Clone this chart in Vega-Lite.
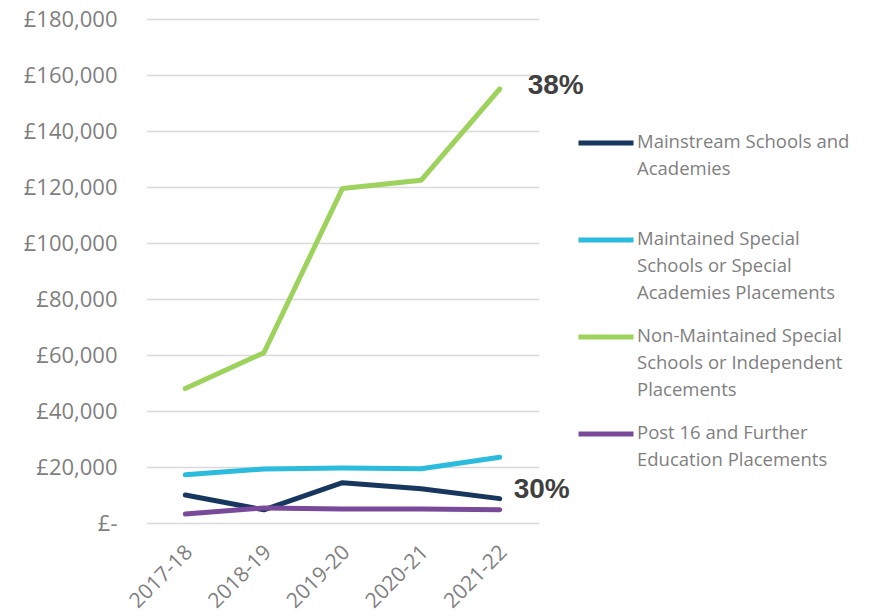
{
  "$schema": "https://vega.github.io/schema/vega-lite/v6.json",
  "autosize": "none",
  "width": 393,
  "height": 504,
  "padding": {"left": 146, "top": 19, "right": 338, "bottom": 93},
  "background": "white",
  "datasets": {
    "costs": [
      {"year": "2017-18", "series": "Mainstream Schools and Academies", "value": 10000},
      {"year": "2018-19", "series": "Mainstream Schools and Academies", "value": 4700},
      {"year": "2019-20", "series": "Mainstream Schools and Academies", "value": 14400},
      {"year": "2020-21", "series": "Mainstream Schools and Academies", "value": 12200},
      {"year": "2021-22", "series": "Mainstream Schools and Academies", "value": 8700},
      {"year": "2017-18", "series": "Maintained Special Schools or Special Academies Placements", "value": 17200},
      {"year": "2018-19", "series": "Maintained Special Schools or Special Academies Placements", "value": 19300},
      {"year": "2019-20", "series": "Maintained Special Schools or Special Academies Placements", "value": 19600},
      {"year": "2020-21", "series": "Maintained Special Schools or Special Academies Placements", "value": 19400},
      {"year": "2021-22", "series": "Maintained Special Schools or Special Academies Placements", "value": 23500},
      {"year": "2017-18", "series": "Non-Maintained Special Schools or Independent Placements", "value": 48000},
      {"year": "2018-19", "series": "Non-Maintained Special Schools or Independent Placements", "value": 60800},
      {"year": "2019-20", "series": "Non-Maintained Special Schools or Independent Placements", "value": 119500},
      {"year": "2020-21", "series": "Non-Maintained Special Schools or Independent Placements", "value": 122400},
      {"year": "2021-22", "series": "Non-Maintained Special Schools or Independent Placements", "value": 155000},
      {"year": "2017-18", "series": "Post 16 and Further Education Placements", "value": 3200},
      {"year": "2018-19", "series": "Post 16 and Further Education Placements", "value": 5400},
      {"year": "2019-20", "series": "Post 16 and Further Education Placements", "value": 5000},
      {"year": "2020-21", "series": "Post 16 and Further Education Placements", "value": 5000},
      {"year": "2021-22", "series": "Post 16 and Further Education Placements", "value": 4700}
    ],
    "notes": [
      {"year": "2021-22", "value": 156000, "label": "38%", "which": "top"},
      {"year": "2021-22", "value": 11800, "label": "30%", "which": "bottom"}
    ]
  },
  "encoding": {
    "x": {
      "field": "year", "type": "ordinal",
      "scale": {"type": "point", "padding": 0.5},
      "axis": {
        "title": null, "labelAngle": -45, "domain": false, "ticks": false,
        "labelFont": "Open Sans", "labelFontSize": 21, "labelColor": "#7f7f7f",
        "labelPadding": 18, "labelOffset": -4, "grid": false
      }
    },
    "y": {
      "field": "value", "type": "quantitative",
      "scale": {"domain": [0, 180000], "nice": false},
      "axis": {
        "title": null, "values": [0, 20000, 40000, 60000, 80000, 100000, 120000, 140000, 160000, 180000],
        "domain": false, "ticks": false, "labelPadding": 29,
        "labelFont": "Open Sans", "labelFontSize": 22, "labelColor": "#7f7f7f",
        "labelExpr": "datum.value == 0 ? '£-    ' : '£' + format(datum.value, ',')",
        "gridColor": "#d9d9d9", "gridWidth": 1.5
      }
    }
  },
  "layer": [
    {
      "data": {"name": "costs"},
      "mark": {"type": "line", "strokeWidth": 5, "strokeCap": "round", "strokeJoin": "round"},
      "encoding": {
        "color": {
          "field": "series", "type": "nominal",
          "scale": {
            "domain": ["Mainstream Schools and Academies", "Maintained Special Schools or Special Academies Placements", "Non-Maintained Special Schools or Independent Placements", "Post 16 and Further Education Placements"],
            "range": ["#17375e", "#2bbcdd", "#9dd35c", "#7a4a9a"]
          },
          "legend": {
            "title": null, "orient": "none", "legendX": 430, "legendY": 94,
            "padding": 0, "symbolType": "stroke", "symbolSize": 3025, "symbolStrokeWidth": 5,
            "labelFont": "Open Sans", "labelFontSize": 18.5, "labelColor": "#7f7f7f",
            "labelOffset": 1, "labelLimit": 300, "labelBaseline": "top", "rowPadding": 4,
            "encoding": {"labels": {"dy": {"value": -10}}},
            "labelExpr": "datum.label == 'Mainstream Schools and Academies' ? ['Mainstream Schools and', 'Academies', ''] : datum.label == 'Maintained Special Schools or Special Academies Placements' ? ['Maintained Special', 'Schools or Special', 'Academies Placements'] : datum.label == 'Non-Maintained Special Schools or Independent Placements' ? ['Non-Maintained Special', 'Schools or Independent', 'Placements'] : ['Post 16 and Further', 'Education Placements', '']"
          }
        }
      }
    },
    {
      "data": {"name": "notes"},
      "transform": [{"filter": "datum.which == 'top'"}],
      "mark": {"type": "text", "align": "left", "baseline": "middle", "dx": 28, "font": "Liberation Sans", "fontWeight": "bold", "fontSize": 28, "color": "#404040"},
      "encoding": {"text": {"field": "label"}}
    },
    {
      "data": {"name": "notes"},
      "transform": [{"filter": "datum.which == 'bottom'"}],
      "mark": {"type": "text", "align": "left", "baseline": "middle", "dx": 14, "font": "Liberation Sans", "fontWeight": "bold", "fontSize": 28, "color": "#404040"},
      "encoding": {"text": {"field": "label"}}
    }
  ],
  "config": {
    "view": {"stroke": null},
    "style": {"guide-label": {"lineHeight": 27}}
  }
}
